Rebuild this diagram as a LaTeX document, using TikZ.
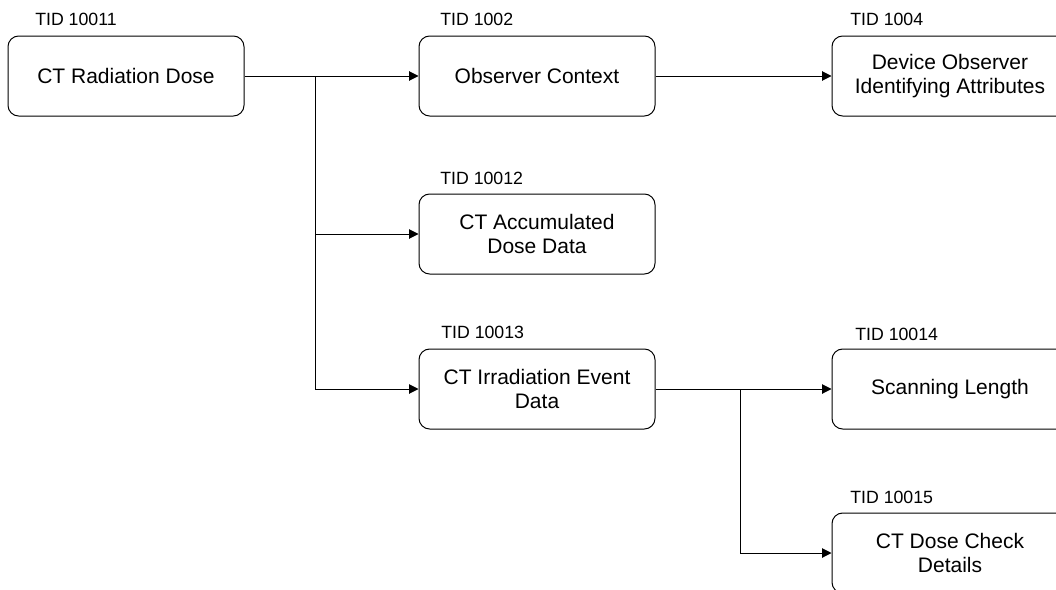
\documentclass[tikz,border=0pt]{standalone}
\usepackage{fontspec}
\setmainfont{Liberation Sans}
\usetikzlibrary{arrows.meta,positioning}

\begin{document}
\begin{tikzpicture}[x=0.75pt,y=0.75pt,yscale=-1,xscale=1,
    tidbox/.style={draw, rounded corners=8pt, line width=0.75pt, minimum width=177pt, minimum height=60pt, inner sep=0pt, align=center, font=\fontsize{15.75}{17.6}\selectfont},
    tidlabel/.style={anchor=base west, inner sep=0pt, font=\fontsize{13.3}{15}\selectfont},
    link/.style={line width=0.75pt, -{Triangle[length=7pt,width=7pt]}}]
    \useasboundingbox (0,0) rectangle (1056,589);
    \clip (0,0) rectangle (1056,589);

    % Template boxes
    \node[tidbox] (dose) at (126,76) {CT Radiation Dose};
    \node[tidbox] (obs) at (537,76) {Observer Context};
    \node[tidbox] (dev) at (950,76) {Device Observer\\Identifying Attributes};
    \node[tidbox] (acc) at (537,234) {CT Accumulated\\Dose Data};
    \node[tidbox] (irr) at (537,389) {CT Irradiation Event\\Data};
    \node[tidbox] (scan) at (950,389) {Scanning Length};
    \node[tidbox] (chk) at (950,553) {CT Dose Check\\Details};

    % Text Node
    \node[tidlabel] (tdose) at (35,26) {TID 10011};
    \node[tidlabel] (tobs) at (440,26) {TID 1002};
    \node[tidlabel] (tdev) at (850,26) {TID 1004};
    \node[tidlabel] (tacc) at (440,184) {TID 10012};
    \node[tidlabel] (tirr) at (441,338) {TID 10013};
    \node[tidlabel] (tscan) at (855,340) {TID 10014};
    \node[tidlabel] (tchk) at (850,503) {TID 10015};

    %Straight Lines
    \coordinate (j1) at (315,76);
    \coordinate (j2) at (740,389);
    \draw[link] (dose) -- (obs);
    \draw[link] (j1) |- (acc.west);
    \draw[link] (j1) |- (irr.west);
    \draw[link] (obs) -- (dev);
    \draw[link] (irr) -- (scan);
    \draw[link] (j2) |- (chk.west);

\end{tikzpicture}
\end{document}
